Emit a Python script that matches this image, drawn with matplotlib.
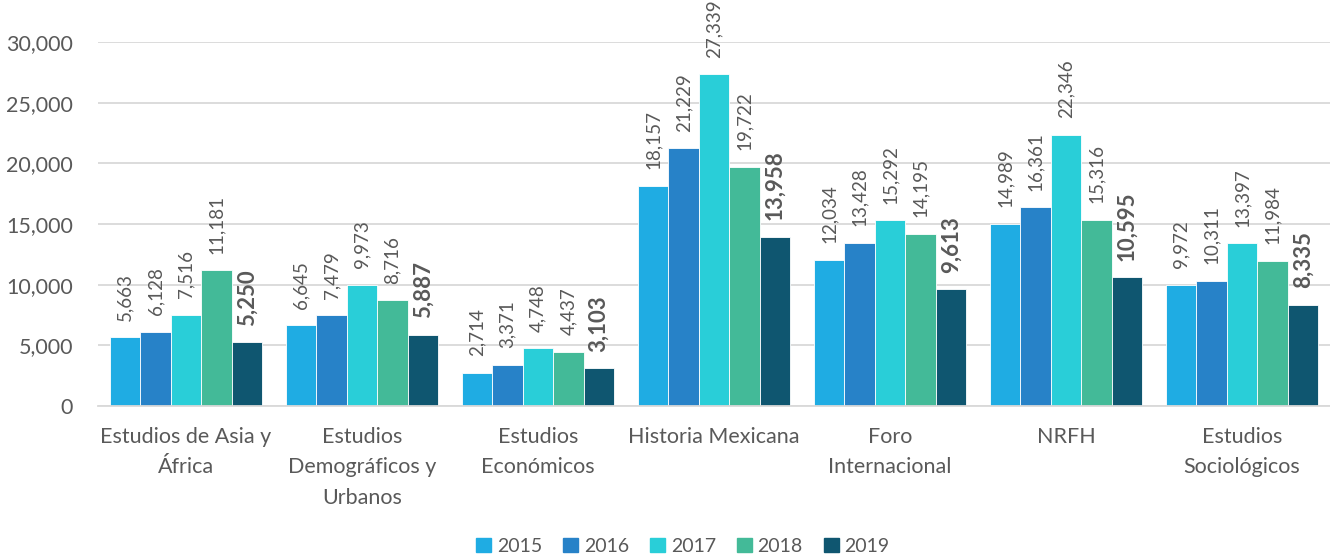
import numpy as np
import matplotlib.pyplot as plt
from matplotlib.patches import Patch

plt.rcParams['font.family'] = ['Lato', 'DejaVu Sans']

categories = ['Estudios de Asia y\nÁfrica', 'Estudios\nDemográficos y\nUrbanos',
              'Estudios\nEconómicos', 'Historia Mexicana', 'Foro\nInternacional',
              'NRFH', 'Estudios\nSociológicos']
years = ['2015', '2016', '2017', '2018', '2019']
v2015 = [5663, 6645, 2714, 18157, 12034, 14989, 9972]
v2016 = [6128, 7479, 3371, 21229, 13428, 16361, 10311]
v2017 = [7516, 9973, 4748, 27339, 15292, 22346, 13397]
v2018 = [11181, 8716, 4437, 19722, 14195, 15316, 11984]
v2019 = [5250, 5887, 3103, 13958, 9613, 10595, 8335]
series = [v2015, v2016, v2017, v2018, v2019]
colors = ['#1FACE3', '#2782C8', '#29CED8', '#43BA98', '#0F5670']
gray = '#595959'

fig = plt.figure(figsize=(13.3, 5.57), dpi=100)
ax = fig.add_axes([98/1330, 1-406/557, 1232/1330, 364/557])

x = np.arange(len(categories))
w = 0.173
for i, (vals, c) in enumerate(zip(series, colors)):
    pos = x + (i - 2) * w
    ax.bar(pos, vals, w, color=c, edgecolor='white', linewidth=0.6, zorder=2)
    bold = (i == 4)
    for p, v in zip(pos, vals):
        ax.annotate(f'{v:,}', (p, v), xytext=(0, 12), textcoords='offset points',
                    rotation=90, ha='center', va='bottom', color=gray,
                    fontsize=16 if bold else 13.5,
                    fontweight='bold' if bold else 'normal', annotation_clip=False)

ax.set_xlim(-0.5, len(categories) - 0.5)
ax.set_ylim(0, 30000)
ax.set_yticks(range(0, 30001, 5000))
ax.set_yticklabels([f'{t:,}' for t in range(0, 30001, 5000)])
ax.set_xticks(x)
ax.set_xticklabels(categories, linespacing=1.65)
ax.tick_params(axis='both', length=0, colors=gray)
ax.tick_params(axis='x', pad=15, labelsize=15.5)
ax.tick_params(axis='y', pad=18, labelsize=15.5)
ax.grid(axis='y', color='#D9D9D9', linewidth=1.3, zorder=0)
ax.set_axisbelow(True)
for s in ['top', 'right', 'left']:
    ax.spines[s].set_visible(False)
ax.spines['bottom'].set_color('#D9D9D9')
ax.spines['bottom'].set_linewidth(1.3)

handles = [Patch(color=c, label=y) for c, y in zip(colors, years)]
fig.legend(handles=handles, loc='center', bbox_to_anchor=(683/1330, 1-546/557), ncol=5,
           frameon=False, fontsize=14, labelcolor=gray, handlelength=0.75,
           handleheight=0.75, handletextpad=0.3, columnspacing=1.1)

fig.savefig('out.png', dpi=100)
